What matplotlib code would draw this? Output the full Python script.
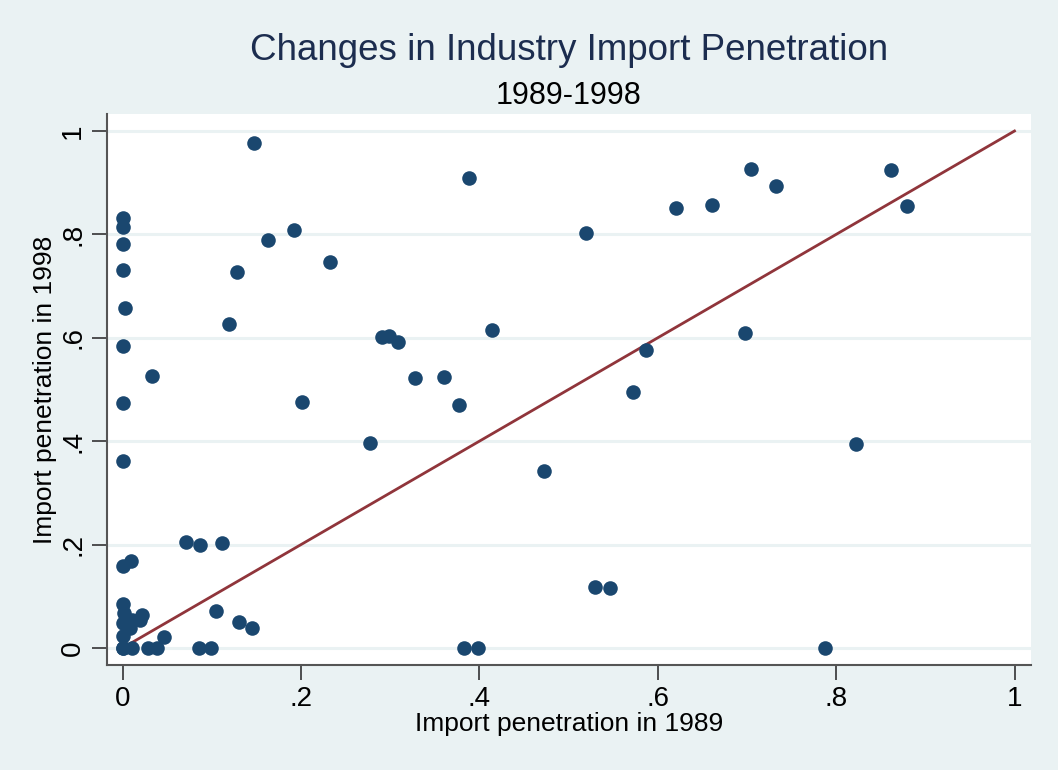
import numpy as np
import matplotlib.pyplot as plt

plt.rcParams['font.family'] = ['Liberation Sans', 'DejaVu Sans']

# import penetration by industry
ip1989 = [0, 0, 0, 0, 0.003, 0, 0, 0, 0.033, 0, 0.009, 0, 0.002, 0, 0, 0, 0,
          0.010, 0.028, 0.039, 0.046, 0.022, 0.019, 0.011, 0.008,
          0.071, 0.087, 0.111, 0.105, 0.131, 0.145, 0.086, 0.099,
          0.147, 0.163, 0.192, 0.128, 0.119, 0.201, 0.233, 0.277,
          0.291, 0.299, 0.309, 0.328, 0.360, 0.377, 0.388, 0.414,
          0.383, 0.399, 0.472, 0.520, 0.530, 0.546, 0.572, 0.587,
          0.621, 0.661, 0.698, 0.705, 0.733, 0.788, 0.822, 0.861, 0.880]
ip1998 = [0.832, 0.814, 0.782, 0.731, 0.658, 0.584, 0.474, 0.362, 0.526, 0.159, 0.168, 0.085, 0.068, 0.048, 0.023, 0, 0,
          0, 0, 0, 0.021, 0.064, 0.054, 0.054, 0.039,
          0.205, 0.200, 0.203, 0.072, 0.050, 0.039, 0, 0,
          0.977, 0.790, 0.808, 0.728, 0.627, 0.475, 0.747, 0.397,
          0.602, 0.603, 0.592, 0.522, 0.524, 0.470, 0.910, 0.615,
          0, 0, 0.343, 0.803, 0.118, 0.116, 0.495, 0.576,
          0.851, 0.857, 0.609, 0.926, 0.894, 0, 0.395, 0.925, 0.855]

ticks = [0, 0.2, 0.4, 0.6, 0.8, 1.0]
tick_labels = ['0', '.2', '.4', '.6', '.8', '1']

bg = '#EAF2F3'
fig = plt.figure(figsize=(10.58, 7.70), dpi=100, facecolor=bg)
ax = fig.add_axes([107/1058, 105/770, 924/1058, 551/770])
ax.set_facecolor('white')

ax.scatter(ip1989, ip1998, s=110, color='#1A476F', zorder=3, linewidths=0)
ax.plot([0, 1], [0, 1], color='#90353B', lw=2, zorder=2)

ax.set_xlim(-0.0175, 1.0185)
ax.set_ylim(-0.0329, 1.0329)
ax.set_xticks(ticks)
ax.set_xticklabels(tick_labels)
ax.set_yticks(ticks)
ax.set_yticklabels(tick_labels, rotation=90, va='center')
ax.tick_params(axis='both', labelsize=20, length=11, width=1.2, color='#333333')
ax.tick_params(axis='x', pad=4)
ax.tick_params(axis='y', pad=4)
ax.grid(axis='y', color=bg, lw=2.2, zorder=0)
ax.set_axisbelow(True)
for s in ['top', 'right']:
    ax.spines[s].set_visible(False)
for s in ['left', 'bottom']:
    ax.spines[s].set_color('#555555')
    ax.spines[s].set_linewidth(1.5)

ax.set_xlabel('Import penetration in 1989', fontsize=19, labelpad=0)
ax.set_ylabel('Import penetration in 1998', fontsize=19, labelpad=2)

fig.text(569/1058, 1 - 51/770, 'Changes in Industry Import Penetration',
         ha='center', va='center', fontsize=26.5, color='#1C2D4F')
fig.text(569/1058, 1 - 96/770, '1989-1998', ha='center', va='center', fontsize=22)

fig.savefig('out.png', dpi=100, facecolor=bg)
